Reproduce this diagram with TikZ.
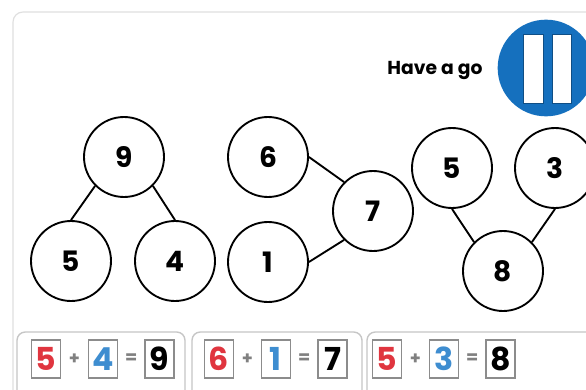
\documentclass[tikz,border=0pt]{standalone}
\usepackage{fontspec}
\setmainfont{Poppins}
\usetikzlibrary{positioning}
\definecolor{numred}{HTML}{E0353F}
\definecolor{numblue}{HTML}{3E8DD0}
\definecolor{gobtn}{HTML}{1570BE}

\begin{document}
\begin{tikzpicture}[x=0.3mm, y=-0.3mm, every node/.style={font=\bfseries\fontsize{24}{26}\selectfont}, part/.style={draw, circle, line width=1.6pt, minimum size=24mm, inner sep=0pt}, link/.style={line width=1.6pt}, eqbox/.style={draw=gray!90, line width=1.1pt, minimum width=8.7mm, minimum height=11.4mm, inner sep=0pt, font=\bfseries\fontsize{27}{29}\selectfont}, sign/.style={minimum width=7.8mm, inner sep=0pt, text=gray, font=\bfseries\fontsize{15}{17}\selectfont}, eqframe/.style={draw=gray!45, line width=1.2pt, rounded corners=2.5mm}]
\useasboundingbox (0,0) rectangle (586,390);
\clip (0,0) rectangle (586,390);
\fill[white] (0,0) rectangle (586,390);
\draw[gray!25, line width=1pt, rounded corners=3mm] (13,12) rectangle (640,440);
\node[font=\bfseries\fontsize{16}{18}\selectfont] (go) at (435,70) {Have a go};
\node[circle, fill=gobtn, minimum size=29mm, inner sep=0pt] (btn) at (546,68) {};
\draw[fill=white, draw=gobtn!70!black, line width=0.6pt] (523,34) rectangle (543,103);
\draw[fill=white, draw=gobtn!70!black, line width=0.6pt] (552,34) rectangle (571,103);
\node[part] (a9) at (124,157) {9};
\node[part] (a5) at (71,261) {5};
\node[part] (a4) at (175,261) {4};
\node[part] (b6) at (268,157) {6};
\node[part] (b7) at (373,211) {7};
\node[part] (b1) at (268,262) {1};
\node[part] (c5) at (452,168) {5};
\node[part] (c3) at (555,168) {3};
\node[part] (c8) at (503,271) {8};
\draw[link] (a9.225) -- (a5.north);
\draw[link] (a9.315) -- (a4.north);
\draw[link] (b6.east) -- (b7.135);
\draw[link] (b1.east) -- (b7.225);
\draw[link] (c5.south) -- (c8.135);
\draw[link] (c3.south) -- (c8.45);
\draw[eqframe] (17,332) rectangle (185,420);
\draw[eqframe] (192,332) rectangle (362,420);
\draw[eqframe] (367,332) rectangle (640,420);
\node[eqbox, text=numred] (e1a) at (46,359) {5};
\node[sign, right=0mm of e1a] (e1p) {+};
\node[eqbox, text=numblue, right=0mm of e1p] (e1b) {4};
\node[sign, right=0mm of e1b] (e1q) {=};
\node[eqbox, right=0mm of e1q] (e1c) {9};
\node[eqbox, text=numred] (e2a) at (219,359) {6};
\node[sign, right=0mm of e2a] (e2p) {+};
\node[eqbox, text=numblue, right=0mm of e2p] (e2b) {1};
\node[sign, right=0mm of e2b] (e2q) {=};
\node[eqbox, right=0mm of e2q] (e2c) {7};
\node[eqbox, text=numred] (e3a) at (387,359) {5};
\node[sign, right=0mm of e3a] (e3p) {+};
\node[eqbox, text=numblue, right=0mm of e3p] (e3b) {3};
\node[sign, right=0mm of e3b] (e3q) {=};
\node[eqbox, right=0mm of e3q] (e3c) {8};
\end{tikzpicture}
\end{document}
